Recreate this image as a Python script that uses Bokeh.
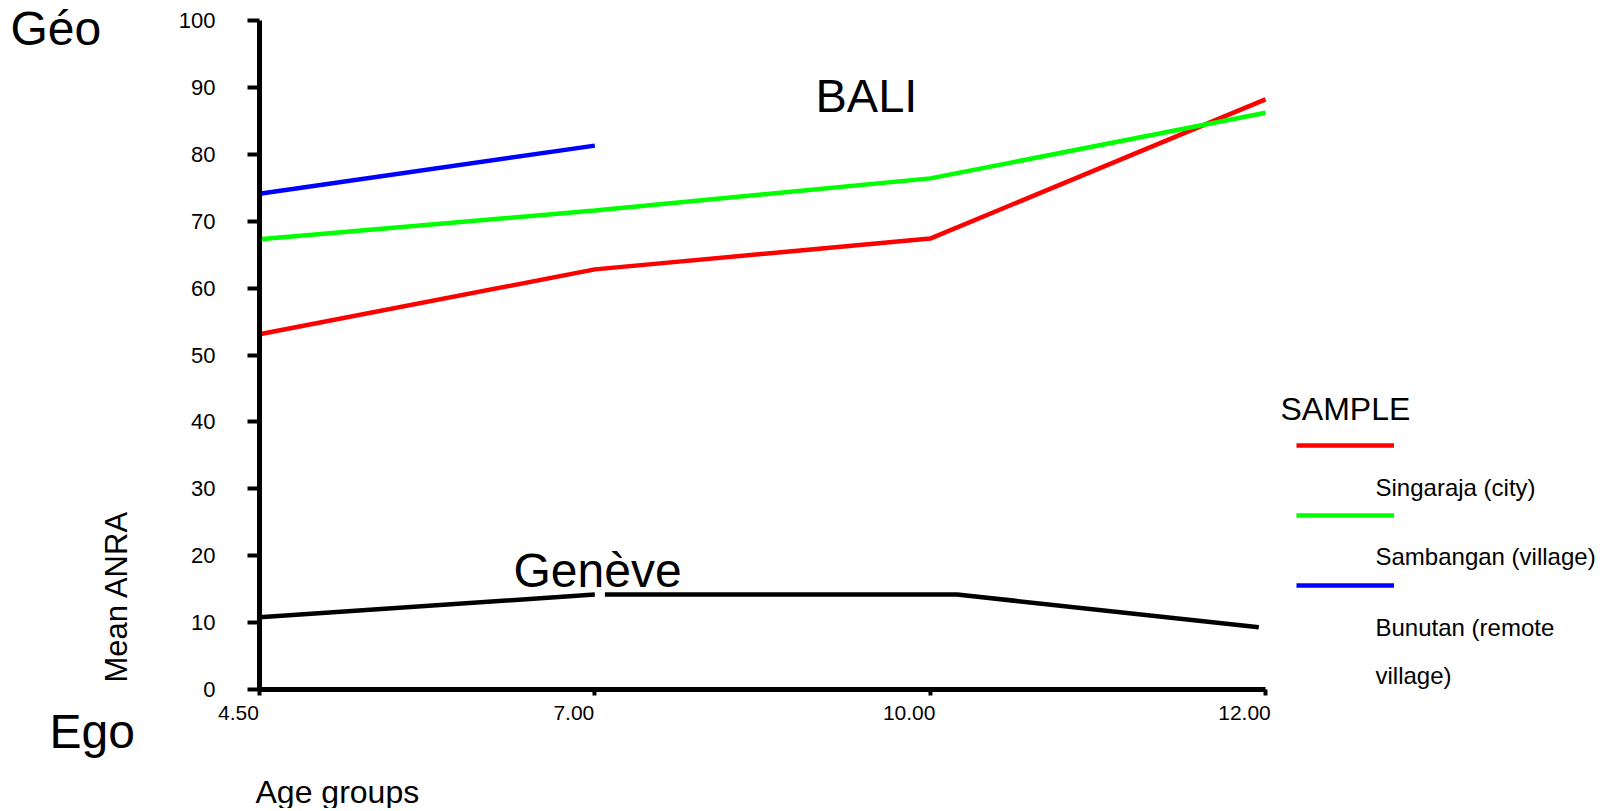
import math
from bokeh.plotting import figure
from bokeh.models import (Range1d, FixedTicker, Label, Legend, LegendItem, LinearAxis)
from bokeh.embed import file_html
from bokeh.resources import INLINE

# ---------------- data ----------------
age_groups = ["4.50", "7.00", "10.00", "12.00"]
age_pos = [0, 1, 2, 3]
y_ticks = [0, 10, 20, 30, 40, 50, 60, 70, 80, 90, 100]

singaraja = [53.1, 62.8, 67.4, 88.2]          # city (red)
sambangan = [67.3, 71.6, 76.4, 86.2]          # village (green)
bunutan_pos = [0, 1]
bunutan = [74.1, 81.3]                        # remote village (blue)

geneve_pos = [0, 1.0, float("nan"), 1.03, 2.08, 2.98]
geneve = [10.8, 14.2, float("nan"), 14.2, 14.2, 9.3]

FONT = "Liberation Sans"

# ---------------- layout (pixels) ----------------
W, H = 1600, 808
FL, FR, FT, FB = 259, 1265, 20, 689      # where x=0..3 and y=0..100 sit on the canvas
XPX = (FR - FL) / 3.0
YPX = (FB - FT) / 100.0

def dx(px):
    return (px - FL) / XPX

def dy(py):
    return (FB - py) / YPX

p = figure(width=W, height=H, output_backend="svg", toolbar_location=None,
           x_range=Range1d(dx(0), dx(W)), y_range=Range1d(dy(H), dy(0)),
           x_axis_type=None, y_axis_type=None, min_border=0)
p.outline_line_color = None
p.grid.visible = False
p.background_fill_color = "white"
p.border_fill_color = "white"

# x axis: line + ticks at the true positions
xax = LinearAxis(fixed_location=0, bounds=(0, 3),
                 ticker=FixedTicker(ticks=age_pos),
                 major_label_overrides={pos: "" for pos in age_pos},
                 axis_line_width=5, axis_line_color="black",
                 major_tick_line_width=4, major_tick_line_color="black",
                 major_tick_in=0, major_tick_out=6,
                 minor_tick_line_color=None)
p.add_layout(xax, "below")

# x tick labels, right-aligned to their ticks
LABEL_SHIFT = 21 / XPX
label_pos = [pos - LABEL_SHIFT for pos in age_pos]
xlab = LinearAxis(fixed_location=0,
                  ticker=FixedTicker(ticks=label_pos),
                  major_label_overrides={lp: lab for lp, lab in zip(label_pos, age_groups)},
                  axis_line_color=None, major_tick_line_color=None,
                  major_tick_in=0, major_tick_out=6, minor_tick_line_color=None,
                  major_label_standoff=10,
                  major_label_text_font=FONT, major_label_text_font_size="21px",
                  major_label_text_color="black")
p.add_layout(xlab, "below")

# y axis
yax = LinearAxis(fixed_location=0, bounds=(0, 100),
                 ticker=FixedTicker(ticks=y_ticks),
                 axis_line_width=5, axis_line_color="black",
                 major_tick_line_width=4, major_tick_line_color="black",
                 major_tick_in=0, major_tick_out=12,
                 minor_tick_line_color=None,
                 major_label_standoff=32,
                 major_label_text_font=FONT, major_label_text_font_size="22px",
                 major_label_text_color="black")
p.add_layout(yax, "left")

# lines
r_red = p.line(age_pos, singaraja, line_color="#FF0000", line_width=4.5)
r_green = p.line(age_pos, sambangan, line_color="#00FF00", line_width=4.5)
r_blue = p.line(bunutan_pos, bunutan, line_color="#0000FF", line_width=4.5)
p.line(geneve_pos, geneve, line_color="black", line_width=4.5)

# legend keys (lines only; their names are written below each key)
KEY_H, KEY_GAP = 20, 50
legend_h = 3 * KEY_H + 2 * KEY_GAP
legend = Legend(items=[LegendItem(label=" ", renderers=[r]) for r in (r_red, r_green, r_blue)],
                location=(1296, H - (435 + legend_h)),
                glyph_width=98, glyph_height=KEY_H, spacing=KEY_GAP, padding=0, margin=0,
                label_text_font_size="8px", label_standoff=0,
                border_line_alpha=0, background_fill_alpha=0)
p.add_layout(legend, "center")

def add_label(text, px, py, size, angle=0.0, align="left"):
    p.add_layout(Label(x=dx(px), y=dy(py), text=text, text_font=FONT,
                       text_font_size=size, text_color="black",
                       text_align=align, text_baseline="middle", angle=angle))

# positions: left edge, vertical centre of capitals
add_label("Géo", 10, 28, "48px")
add_label("Ego", 49, 731, "48px")
add_label("BALI", 815, 95, "47px")
add_label("Genève", 513, 570, "48px")
add_label("SAMPLE", 1280, 408, "32px")
add_label("Singaraja (city)", 1375, 487, "24px")
add_label("Sambangan (village)", 1375, 556, "24px")
add_label("Bunutan (remote", 1375, 627, "24px")
add_label("village)", 1375, 675, "24px")
add_label("Age groups", 255, 791, "32px")
add_label("Mean ANRA", 116, 682, "31px", angle=math.pi / 2)

open("out.html", "w").write(file_html(p, INLINE))
